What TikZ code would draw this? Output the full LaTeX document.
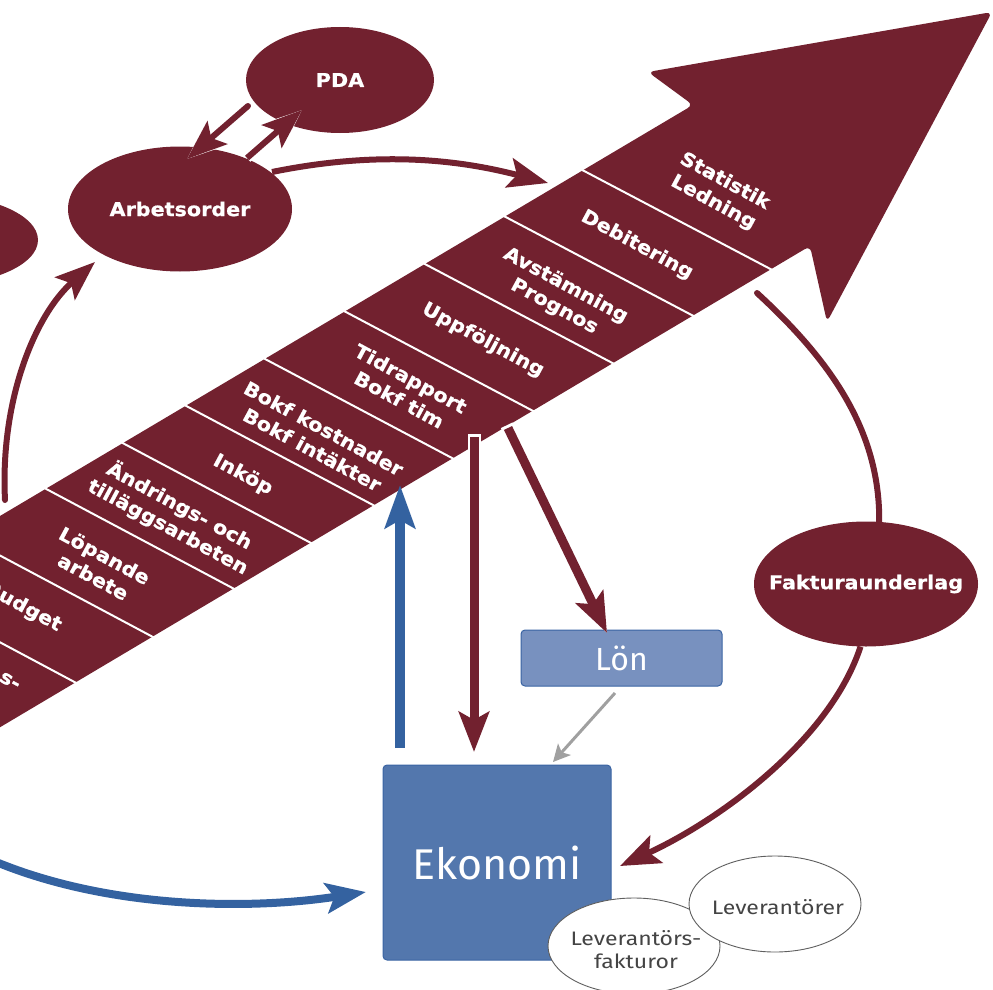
\documentclass[tikz,border=0pt]{standalone}
\usepackage{fontspec}
\setmainfont{Fira Sans}
\newfontfamily\lblfam[FakeStretch=1.09,FakeBold=0.8]{DejaVu Sans Bold}
\newfontfamily\lightfam[FakeStretch=1.18]{Fira Sans}
\usetikzlibrary{arrows.meta,shapes.geometric}
\definecolor{wine}{RGB}{114,33,47}
\definecolor{barrow}{RGB}{52,98,160}
\definecolor{ekofill}{RGB}{83,119,173}
\definecolor{ekoline}{RGB}{58,100,163}
\definecolor{lonfill}{RGB}{120,145,191}
\definecolor{txtgray}{RGB}{68,68,68}
\definecolor{elgray}{RGB}{95,95,95}
\definecolor{arrgray}{RGB}{160,160,160}
\newcommand\labfont{\lblfam\fontsize{19}{24}\selectfont}
\begin{document}
\begin{tikzpicture}[x=1pt,y=-1pt,
  mell/.style={ellipse, fill=wine, inner sep=0pt},
  wlabel/.style={text=white, font=\labfont, inner sep=0pt},
  bandlbl/.style={text=white, font=\labfont, align=center, rotate=-28.3, inner sep=0pt},
  divline/.style={draw=white, line width=2pt},
  mline/.style={draw=wine, line width=6pt, line cap=butt},
  wline/.style={draw=white, line cap=butt},
  bline/.style={draw=barrow, line width=8pt, line cap=butt},
  headA/.style={-{Stealth[length=40pt,width=30pt,inset=8pt]}},
  headW/.style={-{Stealth[length=45pt,width=36pt,inset=9pt]}},
  levell/.style={ellipse, draw=elgray, line width=0.9pt, fill=white, minimum width=172pt, minimum height=96pt, inner sep=0pt},
  gtext/.style={text=txtgray, font=\lightfam\fontsize{19.5}{23}\selectfont, inner sep=0pt}
]
\useasboundingbox (0,0) rectangle (993,990);
\clip (0,0) rectangle (993,990);

% ellipses
\node[mell, minimum width=216pt, minimum height=92pt] (left) at (-70,240) {};
\node[mell, minimum width=224pt, minimum height=125pt] (arb) at (180,209) {};
\node[wlabel] (arbt) at (arb.center) {Arbetsorder};
\node[mell, minimum width=188pt, minimum height=106pt] (pda) at (340,80) {};
\node[wlabel] (pdat) at (pda.center) {PDA};
\node[mell, minimum width=224pt, minimum height=125pt] (fak) at (866,584) {};
\node[wlabel] (fakt) at (fak.center) {Fakturaunderlag};

% big arrow band
\fill[wine, rounded corners=6pt] (-300,{516+0.593*300}) -- (693,105) -- (648,72) -- (992,12) -- (827,322) -- (810,246) -- (-300,{727+0.595*300}) -- cycle;
\foreach \xl in {75,152,233,310,373,452,532,612,692,770} {
  \draw[divline] ({\xl-188},{516-0.593*(\xl-188)-1}) -- ({\xl+2},{727-0.595*\xl+1});
}

% band labels
\node[bandlbl] (l1) at (719,192) {Statistik\\Ledning};
\node[bandlbl] (l2) at (637,245) {Debitering};
\node[bandlbl] (l3) at (560,296) {Avstämning\\Prognos};
\node[bandlbl] (l4) at (483,340) {Uppföljning};
\node[bandlbl] (l5) at (405,389) {Tidrapport\\Bokf tim};
\node[bandlbl] (l6) at (318,439) {Bokf kostnader\\Bokf intäkter};
\node[bandlbl] (l7) at (243,475) {Inköp};
\node[bandlbl] (l8) at (174,516) {Ändrings- och\\tilläggsarbeten};
\node[bandlbl] (l9) at (99,566) {Löpande\\arbete};
\node[bandlbl] (l10) at (23,607) {Budget};
\node[bandlbl] (l11) at (10,681) {s-};

% curved connectors
\coordinate (c1s) at (272,172);
\coordinate (c1e) at (548,183);
\draw[mline, headA] (c1s) .. controls (380,150) and (460,160) .. (c1e);
\coordinate (c2s) at (5,500);
\coordinate (c2e) at (95,262);
\draw[mline, line cap=round, headA] (c2s) .. controls (0,400) and (35,315) .. (c2e);
\coordinate (c3s) at (757,293);
\draw[mline, line cap=round] (c3s) .. controls (830,360) and (880,430) .. (fak.78);
\coordinate (c4e) at (620,866);
\draw[mline, headA] (fak.265) .. controls (830,740) and (720,820) .. (c4e);
\coordinate (c5s) at (-20,855);
\coordinate (c5e) at (366,892);
\draw[bline, headA] (c5s) .. controls (100,910) and (250,910) .. (c5e);

% boxes
\node[draw=ekoline, line width=1pt, fill=ekofill, rounded corners=4pt, minimum width=228pt, minimum height=195pt, text=white, font=\fontsize{43}{50}\selectfont] (eko) at (497,862.5) {Ekonomi};
\node[draw=ekoline, line width=1pt, fill=lonfill, rounded corners=4pt, minimum width=201pt, minimum height=56pt, text=white, font=\fontsize{32}{38}\selectfont] (lon) at (621.5,658) {Lön};
\node[levell] (levf) at (634,946) {};
\node[gtext, align=center] (levft) at (636,950) {Leverantörs-\\fakturor};
\node[levell] (lev) at (775,904) {};
\node[gtext] (levt) at (778,907) {Leverantörer};

% PDA arrows
\coordinate (p1s) at (248,106);
\coordinate (p1e) at (187,159);
\draw[wline, line width=10pt, headW] (p1s) -- (p1e);
\draw[mline, line cap=round, headA] (p1s) -- (p1e);
\coordinate (p2s) at (247,158);
\coordinate (p2e) at (302,110);
\draw[wline, line width=10pt, headW] (p2s) -- (p2e);
\draw[mline, headA] (p2s) -- (p2e);

% arrows from band
\coordinate (d1w) at (474,434);
\coordinate (d1s) at (474,437);
\coordinate (d1e) at (474,752);
\draw[wline, line width=13pt, headW] (d1w) -- (d1e);
\draw[mline, line width=9pt, headA] (d1s) -- (d1e);
\coordinate (d2w) at (506.7,425.3);
\coordinate (d2s) at (508,428);
\coordinate (d2e) at (607,633);
\draw[wline, line width=13pt, headW] (d2w) -- (d2e);
\draw[mline, line width=9pt, headA] (d2s) -- (d2e);

% blue up arrow
\coordinate (b1s) at (400,748);
\coordinate (b1e) at (400,485);
\draw[bline, line width=10pt, -{Stealth[length=43pt,width=30pt,inset=8pt]}] (b1s) -- (b1e);

% gray arrow Lön -> Ekonomi
\coordinate (g1s) at (615,693);
\coordinate (g1e) at (553,762);
\draw[draw=arrgray, line width=3pt, -{Stealth[length=17pt,width=17pt,inset=4pt]}] (g1s) -- (g1e);
\end{tikzpicture}
\end{document}
